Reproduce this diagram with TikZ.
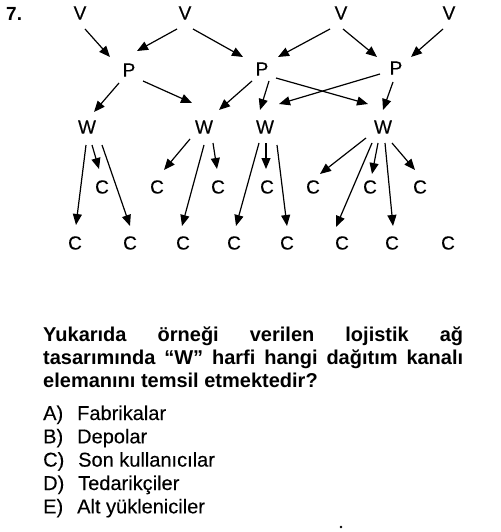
\documentclass[tikz,border=0pt]{standalone}
\usepackage{fontspec}
\setmainfont{Liberation Sans}
\newfontfamily\dfont[FakeBold=0.2]{Liberation Sans}
\newfontfamily\qfont[FakeBold=0.2]{Liberation Sans}
\newfontfamily\qbfont{Liberation Sans Bold}
\usetikzlibrary{arrows.meta}
\tikzset{
  lbl/.style={inner sep=0pt, font=\dfont\fontsize{19}{22}\selectfont},
  arr/.style={line width=1.2pt, -{Triangle[length=11pt,width=9pt]}},
  qline/.style={anchor=base west, inner sep=0pt, font=\qbfont\fontsize{20}{24}\selectfont},
  opt/.style={anchor=base west, inner sep=0pt, font=\qfont\fontsize{20}{24}\selectfont}
}
\begin{document}
\begin{tikzpicture}[x=1pt,y=-1pt]
\useasboundingbox (0,0) rectangle (500,532);
\fill[white] (0,0) rectangle (500,532);
\node[anchor=base west, inner sep=0pt, font=\qbfont\fontsize{19}{22}\selectfont] (num) at (6,20.5) {7.};
% V row
\node[lbl] (V1) at (80,13) {V};
\node[lbl] (V2) at (185,13) {V};
\node[lbl] (V3) at (341,13) {V};
\node[lbl] (V4) at (449,13) {V};
% P row
\node[lbl] (P1) at (129,70) {P};
\node[lbl] (P2) at (262,69) {P};
\node[lbl] (P3) at (396,68) {P};
% W row
\node[lbl] (W1) at (87,127) {W};
\node[lbl] (W2) at (204,127) {W};
\node[lbl] (W3) at (265,127) {W};
\node[lbl] (W4) at (383,127) {W};
% C row 1
\node[lbl] (c1) at (102,187) {C};
\node[lbl] (c2) at (157,187) {C};
\node[lbl] (c3) at (218,187) {C};
\node[lbl] (c4) at (267,187) {C};
\node[lbl] (c5) at (313,187) {C};
\node[lbl] (c6) at (370,187) {C};
\node[lbl] (c7) at (420,187) {C};
% C row 2
\node[lbl] (d1) at (75,243) {C};
\node[lbl] (d2) at (130,243) {C};
\node[lbl] (d3) at (183,243) {C};
\node[lbl] (d4) at (234,243) {C};
\node[lbl] (d5) at (287,243) {C};
\node[lbl] (d6) at (342,243) {C};
\node[lbl] (d7) at (392,243) {C};
\node[lbl] (d8) at (448,243) {C};
% V -> P
\draw[arr] ([shift={(5,16)}]V1.center) -- ([shift={(-19,-13)}]P1.center);
\draw[arr] ([shift={(-8,16)}]V2.center) -- ([shift={(8,-19)}]P1.center);
\draw[arr] ([shift={(8,16)}]V2.center) -- ([shift={(-19,-12)}]P2.center);
\draw[arr] ([shift={(-11,16)}]V3.center) -- ([shift={(16,-12)}]P2.center);
\draw[arr] ([shift={(2,16)}]V3.center) -- ([shift={(-19,-11)}]P3.center);
\draw[arr] ([shift={(-6,16)}]V4.center) -- ([shift={(15,-11)}]P3.center);
% P -> W
\draw[arr] ([shift={(-10,13)}]P1.center) -- ([shift={(7,-15)}]W1.center);
\draw[arr] ([shift={(14,11)}]P1.center) -- ([shift={(-12,-24)}]W2.center);
\draw[arr] ([shift={(-10,12)}]P2.center) -- ([shift={(15,-17)}]W2.center);
\draw[arr] ([shift={(7,12)}]P2.center) -- ([shift={(-5,-17)}]W3.center);
\draw[arr] ([shift={(14,9)}]P2.center) -- ([shift={(-15,-23)}]W4.center);
\draw[arr] ([shift={(-16,6)}]P3.center) -- ([shift={(14,-23)}]W3.center);
\draw[arr] ([shift={(-3,14)}]P3.center) -- ([shift={(0,-17)}]W4.center);
% W1
\draw[arr] ([shift={(5,18)}]W1.center) -- ([shift={(-3,-18)}]c1.center);
\draw[arr] ([shift={(-1,18)}]W1.center) -- ([shift={(1,-18)}]d1.center);
\draw[arr] ([shift={(15,18)}]W1.center) -- ([shift={(0,-17)}]d2.center);
% W2
\draw[arr] ([shift={(-14,12)}]W2.center) -- ([shift={(7,-17)}]c2.center);
\draw[arr] ([shift={(9,16)}]W2.center) -- ([shift={(-1,-18)}]c3.center);
\draw[arr] ([shift={(0,18)}]W2.center) -- ([shift={(-1,-17)}]d3.center);
% W3
\draw[arr] ([shift={(1,16)}]W3.center) -- ([shift={(-1,-18)}]c4.center);
\draw[arr] ([shift={(-6,16)}]W3.center) -- ([shift={(2,-17)}]d4.center);
\draw[arr] ([shift={(12,18)}]W3.center) -- ([shift={(0,-17)}]d5.center);
% W4
\draw[arr] ([shift={(-17,11)}]W4.center) -- ([shift={(7,-13)}]c5.center);
\draw[arr] ([shift={(-11,16)}]W4.center) -- ([shift={(-6,-16)}]d6.center);
\draw[arr] ([shift={(-5,16)}]W4.center) -- ([shift={(2,-13)}]c6.center);
\draw[arr] ([shift={(2,16)}]W4.center) -- ([shift={(1,-17)}]d7.center);
\draw[arr] ([shift={(9,16)}]W4.center) -- ([shift={(-5,-17)}]c7.center);
% question
\node[qline] (q1) at (43,341) {\hbox to 420pt{Yukarıda\hfill örneği\hfill verilen\hfill lojistik\hfill ağ}};
\node[qline] (q2) at (43,364) {\hbox to 420pt{tasarımında\hfill “W”\hfill harfi\hfill hangi\hfill dağıtım\hfill kanalı}};
\node[qline] (q3) at (43,387.5) {elemanını temsil etmektedir?};
% options
\node[opt] (oA) at (43,420) {A)};
\node[opt] (tA) at (77,420) {Fabrikalar};
\node[opt] (oB) at (43,443.3) {B)};
\node[opt] (tB) at (77,443.3) {Depolar};
\node[opt] (oC) at (43,466.6) {C)};
\node[opt] (tC) at (78,466.6) {Son kullanıcılar};
\node[opt] (oD) at (43,490) {D)};
\node[opt] (tD) at (78,490) {Tedarikçiler};
\node[opt] (oE) at (43,513.3) {E)};
\node[opt] (tE) at (77,513.3) {Alt yükleniciler};
\fill (341,527) circle (1.3);
\end{tikzpicture}
\end{document}
